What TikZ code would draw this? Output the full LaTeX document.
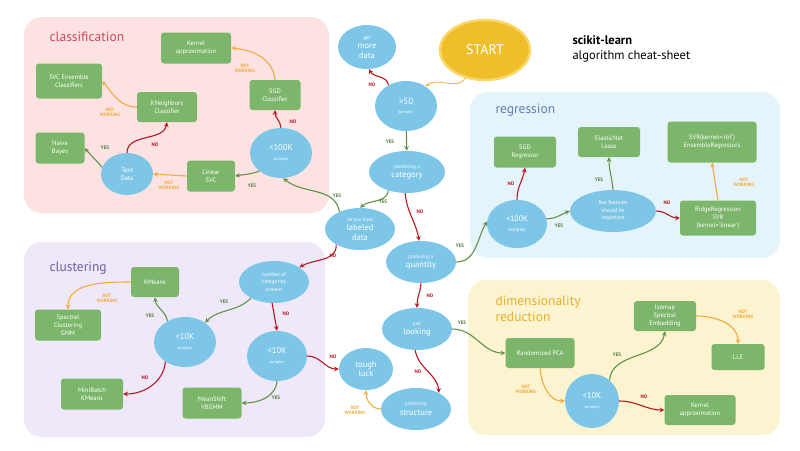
\documentclass[tikz,border=0pt]{standalone}
\usepackage{fontspec}
\setmainfont{PT Sans}
\usetikzlibrary{shapes.geometric}

\definecolor{ellblue}{RGB}{125,198,232}
\definecolor{algogreen}{RGB}{124,182,106}
\definecolor{startyellow}{RGB}{240,190,42}
\definecolor{startrim}{RGB}{248,216,104}
\definecolor{yesgreen}{RGB}{98,146,72}
\definecolor{nored}{RGB}{186,22,32}
\definecolor{nworange}{RGB}{242,172,62}
\definecolor{clspink}{RGB}{253,226,226}
\definecolor{regblue}{RGB}{229,243,250}
\definecolor{clulilac}{RGB}{238,232,249}
\definecolor{dimyellow}{RGB}{252,243,208}
\definecolor{clstitle}{RGB}{200,76,92}
\definecolor{regtitle}{RGB}{96,130,174}
\definecolor{clutitle}{RGB}{112,96,160}
\definecolor{dimtitle}{RGB}{226,178,52}

\newcommand{\qsm}[1]{{\fontsize{5}{9.5}\selectfont #1}}
\newcommand{\qtn}[1]{{\fontsize{4.2}{9}\selectfont #1}}

\begin{document}
\begin{tikzpicture}[x=1pt, y=1pt, >=stealth,
    quest/.style={ellipse, fill=ellblue, text=white, inner sep=0pt, align=center,
        font=\fontsize{8.5}{9.5}\selectfont},
    algo/.style={rectangle, rounded corners=3pt, fill=algogreen, text=white, inner sep=0pt,
        align=center, font=\fontsize{6.5}{7.8}\selectfont},
    yesedge/.style={->, yesgreen, line width=1.1pt},
    noedge/.style={->, nored, line width=1.1pt},
    nwedge/.style={->, nworange, line width=1.1pt},
    yeslbl/.style={text=yesgreen!85!black, font=\bfseries\fontsize{5}{5.5}\selectfont},
    nolbl/.style={text=nored, font=\bfseries\fontsize{5}{5.5}\selectfont},
    nwlbl/.style={text=nworange, align=center, font=\bfseries\fontsize{4.8}{5.3}\selectfont},
    paneltitle/.style={anchor=west, align=left, font=\fontsize{13.5}{16}\selectfont}]
    \useasboundingbox (0,0) rectangle (800,-450);

    % panels
    \fill[clspink, rounded corners=18] (24,-17) rectangle (329,-213);
    \fill[regblue, rounded corners=18] (470,-92) rectangle (780,-258);
    \fill[clulilac, rounded corners=18] (24,-242) rectangle (325,-437);
    \fill[dimyellow, rounded corners=18] (468,-280) rectangle (780,-435);

    \node[paneltitle, text=clstitle] (tcls) at (46,-37) {classification};
    \node[paneltitle, text=regtitle] (treg) at (492,-110) {regression};
    \node[paneltitle, text=clutitle] (tclu) at (46,-268) {clustering};
    \node[paneltitle, text=dimtitle, font=\fontsize{13.5}{16.5}\selectfont] (tdim) at (492,-309) {dimensionality\\reduction};

    \node[anchor=north west, align=left, font=\fontsize{12.5}{15}\selectfont] (title) at (569,-32)
        {\textbf{scikit-learn}\\algorithm cheat-sheet};

    % questions in the middle
    \node[ellipse, fill=startyellow, draw=startrim, line width=2.5pt, text=white,
        minimum width=90, minimum height=60, font=\fontsize{14}{14}\selectfont] (start) at (485,-50) {START};
    \node[quest, minimum width=58, minimum height=44] (more) at (367,-47) {\qsm{get}\\more\\data};
    \node[quest, minimum width=62, minimum height=50] (gt50) at (406,-106) {\fontsize{9}{10}\selectfont >50\\\qtn{samples}};
    \node[quest, minimum width=76, minimum height=42] (cat) at (407,-172) {\qsm{predicting a}\\category};
    \node[quest, minimum width=70, minimum height=42] (labeled) at (360,-229) {\qsm{do you have}\\labeled\\data};
    \node[quest, minimum width=70, minimum height=42] (quant) at (421,-262) {\qsm{producing a}\\quantity};
    \node[quest, minimum width=70, minimum height=42] (look) at (417,-329) {\qsm{just}\\looking};
    \node[quest, minimum width=54, minimum height=42] (tough) at (366,-369) {tough\\luck};
    \node[quest, minimum width=70, minimum height=42] (struct) at (416,-409) {\qsm{predicting}\\structure};

    % classification
    \node[quest, minimum width=62, minimum height=50] (clsK) at (281,-153) {\fontsize{8.5}{10}\selectfont <100K\\\qtn{samples}};
    \node[quest, minimum width=52, minimum height=42, font=\fontsize{6.5}{8}\selectfont] (textd) at (127,-174) {Text\\Data};
    \node[algo, minimum width=70, minimum height=31] (kerncls) at (196,-48) {Kernel\\approximation};
    \node[algo, minimum width=66, minimum height=35] (svcens) at (69,-81) {SVC Ensemble\\Classifiers};
    \node[algo, minimum width=60, minimum height=30] (knn) at (167,-107) {KNeighbors\\Classifier};
    \node[algo, minimum width=51, minimum height=30] (sgdc) at (275,-95) {SGD\\Classifier};
    \node[algo, minimum width=49, minimum height=31] (nb) at (60,-148) {Naive\\Bayes};
    \node[algo, minimum width=48, minimum height=31] (linsvc) at (211,-176) {Linear\\SVC};

    % regression
    \node[quest, minimum width=60, minimum height=48] (regK) at (517,-224) {\fontsize{8}{9.5}\selectfont <100K\\\qsm{samples}};
    \node[quest, minimum width=86, minimum height=42, font=\fontsize{5.5}{7.5}\selectfont] (few) at (613,-211) {few features\\should be\\important};
    \node[algo, minimum width=62, minimum height=31] (sgdr) at (525,-152) {SGD\\Regressor};
    \node[algo, minimum width=62, minimum height=30] (enet) at (609,-142) {ElasticNet\\Lasso};
    \node[algo, minimum width=89, minimum height=41] (svrrbf) at (712,-142)
        {SVR(kernel=\textquotesingle rbf\textquotesingle)\\EnsembleRegressors};
    \node[algo, minimum width=76, minimum height=35] (ridge) at (718,-218)
        {RidgeRegression\\SVR\\(kernel=\textquotesingle linear\textquotesingle)};

    % clustering
    \node[quest, minimum width=70, minimum height=42, font=\fontsize{5.5}{7.5}\selectfont] (ncat) at (274,-282) {number of\\categories\\known};
    \node[quest, minimum width=62, minimum height=50] (cluKa) at (185,-342) {\fontsize{8.5}{10}\selectfont <10K\\\qtn{samples}};
    \node[quest, minimum width=60, minimum height=50] (cluKb) at (277,-356) {\fontsize{8.5}{10}\selectfont <10K\\\qtn{samples}};
    \node[algo, minimum width=48, minimum height=30] (kmeans) at (155,-282) {KMeans};
    \node[algo, minimum width=66, minimum height=31] (spec) at (68,-325) {Spectral\\Clustering\\GMM};
    \node[algo, minimum width=62, minimum height=31] (minib) at (92,-394) {MiniBatch\\KMeans};
    \node[algo, minimum width=59, minimum height=31] (meansh) at (212,-403) {MeanShift\\VBGMM};

    % dimensionality reduction
    \node[quest, minimum width=54, minimum height=54] (dimK) at (592,-401) {\fontsize{8.5}{10}\selectfont <10K\\\qtn{samples}};
    \node[algo, minimum width=69, minimum height=30] (pca) at (540,-353) {Randomized PCA};
    \node[algo, minimum width=62, minimum height=30] (iso) at (665,-316) {Isomap\\Spectral\\Embedding};
    \node[algo, minimum width=53, minimum height=26] (lle) at (738,-357) {LLE};
    \node[algo, minimum width=71, minimum height=30] (kerndim) at (700,-410) {Kernel\\approximation};

    % main path
    \draw[nworange, ->, line width=0.8pt] (start.235) to[out=235,in=40] (gt50.45);
    \draw[noedge] (gt50.130) to[out=100,in=-60] (more.-85) node[nolbl] at (372,-85) {NO};
    \draw[yesedge] (gt50) -- (cat) node[yeslbl] at (390,-142) {YES};
    \draw[yesedge] (cat.225) to[out=260,in=40] (labeled.north) node[yeslbl] at (383,-202) {YES};
    \draw[noedge] (cat.265) to[out=-85,in=100] (quant.95) node[nolbl] at (420,-212) {NO};
    \draw[noedge] (quant.south) to[out=-95,in=90] (look.north) node[nolbl] at (430,-296) {NO};
    \draw[noedge] (look.265) to[out=-80,in=95] (struct.35) node[nolbl] at (418,-372) {NO};
    \draw[yesedge] (look.east) to[out=0,in=180] (pca.west) node[yeslbl] at (462,-323) {YES};
    \draw[nwedge] (struct.west) to[out=180,in=-90] (tough.south) node[nwlbl] at (355,-410) {NOT\\WORKING};
    \draw[yesedge] (labeled.140) to[out=100,in=-40] (clsK.-85) node[yeslbl] at (337,-196) {YES};
    \draw[noedge] (labeled.213) to[out=-85,in=30] (ncat.30) node[nolbl] at (333,-256) {NO};
    \draw[yesedge] (quant.east) to[out=0,in=240] (regK.175) node[yeslbl] at (460,-246) {YES};

    % classification
    \draw[yesedge] (clsK.220) to[out=200,in=10] (linsvc.east) node[yeslbl] at (252,-186) {YES};
    \draw[noedge] (clsK.north) to[out=95,in=-90] (sgdc.south) node[nolbl] at (293,-122) {NO};
    \draw[nwedge] (sgdc.north) to[out=95,in=-5] (kerncls.east) node[nwlbl] at (245,-68) {NOT\\WORKING};
    \draw[nwedge] (linsvc.west) -- (textd.east) node[nwlbl] at (169,-185) {NOT\\WORKING};
    \draw[yesedge] (textd.165) to[out=130,in=-50] (nb.east) node[yeslbl] at (105,-148) {YES};
    \draw[noedge] (textd.north) to[out=90,in=-100] (knn.south) node[nolbl] at (155,-145) {NO};
    \draw[nwedge] (knn.west) to[out=180,in=-50] (svcens.east) node[nwlbl] at (110,-112) {NOT\\WORKING};

    % regression
    \draw[noedge] (regK.north) to[out=90,in=-100] (sgdr.south) node[nolbl] at (511,-184) {NO};
    \draw[yesedge] (regK.10) to[out=0,in=200] (few.west) node[yeslbl] at (559,-226) {YES};
    \draw[yesedge] (few.north) to[out=95,in=-90] (enet.south) node[yeslbl] at (599,-180) {YES};
    \draw[noedge] (few.east) to[out=0,in=180] (ridge.west) node[nolbl] at (667,-203) {NO};
    \draw[nwedge] (ridge.north) -- (svrrbf.south) node[nwlbl] at (744,-182) {NOT\\WORKING};

    % clustering
    \draw[yesedge] (ncat.215) to[out=225,in=45] (cluKa.44) node[yeslbl] at (224,-302) {YES};
    \draw[noedge] (ncat.265) -- (cluKb.north) node[nolbl] at (286,-314) {NO};
    \draw[yesedge] (cluKa.130) to[out=100,in=-85] (kmeans.south) node[yeslbl] at (150,-316) {YES};
    \draw[nwedge] (kmeans.west) to[out=180,in=90] (spec.north) node[nwlbl] at (107,-298) {NOT\\WORKING};
    \draw[noedge] (cluKa.225) to[out=-95,in=0] (minib.east) node[nolbl] at (145,-378) {NO};
    \draw[yesedge] (cluKb.south) to[out=-95,in=0] (meansh.east) node[yeslbl] at (276,-398) {YES};
    \draw[noedge] (cluKb.east) to[out=0,in=180] (tough.west) node[nolbl] at (333,-357) {NO};

    % dimensionality reduction
    \draw[nwedge] (pca.south) to[out=-85,in=180] (dimK.west) node[nwlbl] at (526,-389) {NOT\\WORKING};
    \draw[yesedge] (dimK.50) to[out=85,in=-100] (iso.south) node[yeslbl] at (617,-355) {YES};
    \draw[noedge] (dimK.east) to[out=0,in=180] (kerndim.west) node[nolbl] at (644,-397) {NO};
    \draw[nwedge] (iso.east) to[out=0,in=90] (lle.north) node[nwlbl] at (743,-314) {NOT\\WORKING};
\end{tikzpicture}
\end{document}
